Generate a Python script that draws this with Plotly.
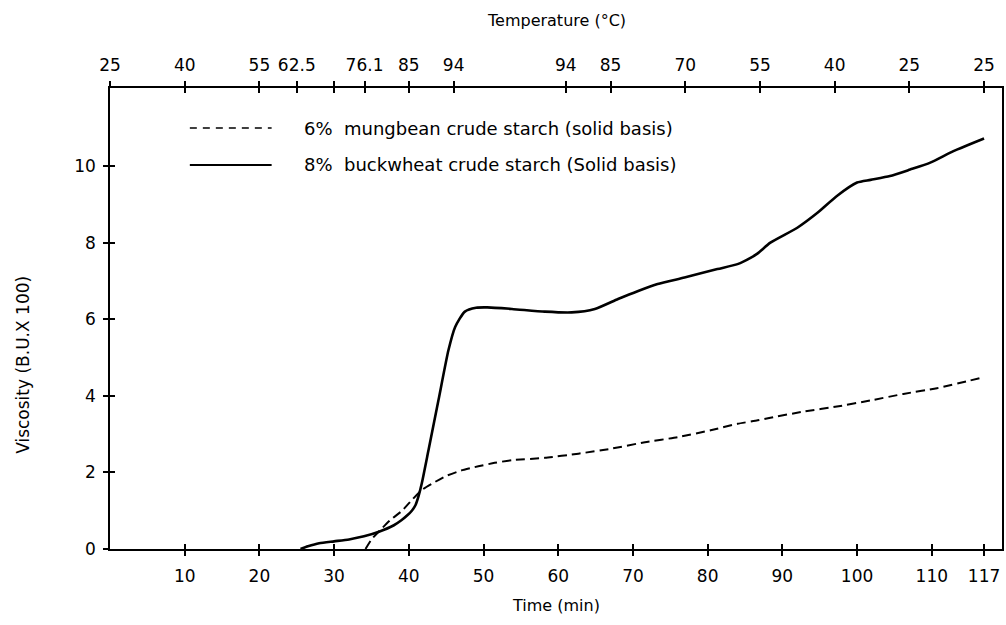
import plotly.graph_objects as go

# ---- data ----
time_buckwheat = [25.5, 26.5, 28, 30, 32, 34, 36, 38, 39.0, 39.8, 40.4, 40.9, 41.3, 41.73, 42.63,
                  43.97, 45.3, 46.2, 47.5, 49.0, 50.5, 53.8, 58.2, 61.8, 64.9, 68.0, 70.7, 73.3,
                  76.9, 81.3, 84.0, 85.8, 86.7, 88.4, 92.0, 94.7, 97.3, 100.0, 101.8, 104.4,
                  107.1, 109.8, 112.9, 117.0]
visc_buckwheat = [0, 0.07, 0.15, 0.2, 0.25, 0.33, 0.45, 0.62, 0.75, 0.88, 1.0, 1.15, 1.38, 1.71, 2.58,
                  3.89, 5.19, 5.8, 6.2, 6.3, 6.31, 6.27, 6.2, 6.18, 6.27, 6.53, 6.74, 6.92,
                  7.09, 7.31, 7.44, 7.61, 7.72, 8.0, 8.39, 8.78, 9.22, 9.57, 9.64, 9.74,
                  9.91, 10.09, 10.39, 10.72]

time_mungbean = [34.2, 35, 36.2, 37.5, 39.1, 40.5, 41.8, 43.5, 44.9, 47, 49.3, 51.5, 53.8, 58.2,
                 62.7, 67.1, 71.6, 76.0, 80.4, 84.0, 86.7, 88.4, 92.9, 97.3, 101.8, 106.2,
                 110.7, 115.1, 117]
visc_mungbean = [0, 0.25, 0.5, 0.75, 1.0, 1.3, 1.55, 1.75, 1.9, 2.05, 2.16, 2.25, 2.32, 2.38,
                 2.49, 2.62, 2.79, 2.92, 3.1, 3.27, 3.36, 3.43, 3.59, 3.72, 3.88, 4.05,
                 4.2, 4.4, 4.49]

time_ticks = [10, 20, 30, 40, 50, 60, 70, 80, 90, 100, 110, 117]
time_labels = [str(t) for t in time_ticks]
temp_tick_times = [0, 10, 20, 25, 30, 34.07, 40, 46, 61, 67, 77, 87, 97, 107, 117]
temp_tick_labels = ["25", "40", "55", "62.5", "", "76.1", "85", "94",
                    "94", "85", "70", "55", "40", "25", "25"]
visc_ticks = [0, 2, 4, 6, 8, 10]
visc_labels = [str(v) for v in visc_ticks]

legend_labels = ["6%  mungbean crude starch (solid basis)",
                 "8%  buckwheat crude starch (Solid basis)"]

X_RANGE = [0, 119.4]
Y_RANGE = [0, 12.04]
FONT = "DejaVu Sans"

fig = go.Figure()
fig.add_trace(go.Scatter(x=time_mungbean, y=visc_mungbean, mode="lines",
                         line=dict(color="black", width=2, dash="9px,5px",
                                   shape="spline", smoothing=0.5),
                         showlegend=False, hoverinfo="skip"))
fig.add_trace(go.Scatter(x=time_buckwheat, y=visc_buckwheat, mode="lines",
                         line=dict(color="black", width=2.6, shape="spline", smoothing=0.6),
                         showlegend=False, hoverinfo="skip"))
# empty traces so that the overlay axes (crossing ticks, top axis) get drawn
for ax in ["x2", "x3", "x4"]:
    fig.add_trace(go.Scatter(x=[], y=[], xaxis=ax, yaxis="y", showlegend=False))
fig.add_trace(go.Scatter(x=[], y=[], xaxis="x", yaxis="y2", showlegend=False))

common = dict(showgrid=False, zeroline=False, tickcolor="black", tickwidth=1.5)
tickfont = dict(family=FONT, size=17, color="black")

fig.update_layout(
    width=1006, height=625,
    margin=dict(l=110, r=2, t=88, b=76),
    paper_bgcolor="white", plot_bgcolor="white",
    showlegend=False,
    xaxis=dict(range=X_RANGE, tickmode="array", tickvals=time_ticks, ticktext=time_labels,
               ticks="outside", ticklen=5, showline=True, linecolor="black", linewidth=1.5,
               tickfont=tickfont, ticklabelstandoff=6, **common),
    xaxis3=dict(range=X_RANGE, overlaying="x", anchor="y", side="bottom", tickmode="array",
                tickvals=time_ticks, ticks="inside", ticklen=5, showticklabels=False,
                showline=False, **common),
    xaxis2=dict(range=X_RANGE, overlaying="x", anchor="y", side="top", tickmode="array",
                tickvals=temp_tick_times, ticktext=temp_tick_labels, ticks="outside",
                ticklen=5, showline=True, linecolor="black", linewidth=1.5,
                tickfont=tickfont, ticklabelstandoff=3, **common),
    xaxis4=dict(range=X_RANGE, overlaying="x", anchor="y", side="top", tickmode="array",
                tickvals=temp_tick_times[1:], ticks="inside", ticklen=5,
                showticklabels=False, showline=False, **common),
    yaxis=dict(range=Y_RANGE, tickmode="array", tickvals=visc_ticks, ticktext=visc_labels,
               ticks="outside", ticklen=5, showline=True, linecolor="black", linewidth=1.5,
               mirror=True, tickfont=tickfont, ticklabelstandoff=4, **common),
    yaxis2=dict(range=Y_RANGE, overlaying="y", anchor="x", side="left", tickmode="array",
                tickvals=visc_ticks[1:], ticks="inside", ticklen=5, showticklabels=False,
                showline=False, **common),
)

fig.add_annotation(text="Temperature (\u00b0C)", xref="paper", yref="paper", x=0.5, y=1.1475,
                   xanchor="center", yanchor="middle", showarrow=False,
                   font=dict(family=FONT, size=16, color="black"))
fig.add_annotation(text="Time (min)", xref="paper", yref="paper", x=0.5, y=-0.1215,
                   xanchor="center", yanchor="middle", showarrow=False,
                   font=dict(family=FONT, size=16, color="black"))
fig.add_annotation(text="Viscosity (B.U.X 100)", xref="paper", yref="paper", x=-0.0984, y=0.40,
                   xanchor="center", yanchor="middle", textangle=-90, showarrow=False,
                   font=dict(family=FONT, size=17, color="black"))

# legend (drawn manually to match the reference layout)
legend_rows_y = [0.9132, 0.8330]
legend_dash = ["7px,6px", "solid"]
legend_width = [1.5, 1.8]
for label, yy, dash, w in zip(legend_labels, legend_rows_y, legend_dash, legend_width):
    fig.add_shape(type="line", xref="paper", yref="paper", x0=0.0895, x1=0.1812, y0=yy, y1=yy,
                  line=dict(color="black", width=w, dash=dash))
    fig.add_annotation(text=label, xref="paper", yref="paper", x=0.2148, y=yy,
                       xanchor="left", yanchor="middle", showarrow=False,
                       font=dict(family=FONT, size=18, color="black"))

fig.write_html("out.html")
